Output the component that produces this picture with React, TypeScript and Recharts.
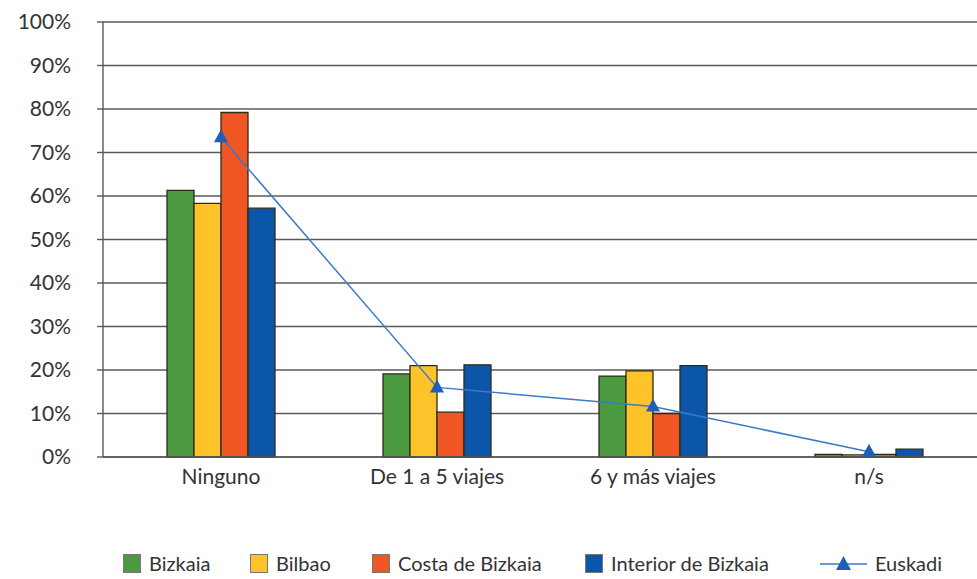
import { ComposedChart, Bar, Line, XAxis, YAxis, CartesianGrid, Legend } from "recharts";

const categories = ["Ninguno", "De 1 a 5 viajes", "6 y más viajes", "n/s"];
const bizkaia = [61.3, 19.1, 18.6, 0.6];
const bilbao = [58.3, 21.0, 19.8, 0.5];
const costa = [79.2, 10.3, 10.0, 0.6];
const interior = [57.2, 21.2, 21.0, 1.8];
const euskadi = [73.5, 16.0, 11.6, 1.2];
const yTicks = [0, 10, 20, 30, 40, 50, 60, 70, 80, 90, 100];

const series = [
  { key: "bizkaia", name: "Bizkaia", color: "#4b9a3f" },
  { key: "bilbao", name: "Bilbao", color: "#fdc32b" },
  { key: "costa", name: "Costa de Bizkaia", color: "#f05524" },
  { key: "interior", name: "Interior de Bizkaia", color: "#0c56a9" },
];

const data = categories.map((name, i) => ({
  name,
  bizkaia: bizkaia[i],
  bilbao: bilbao[i],
  costa: costa[i],
  interior: interior[i],
  euskadi: euskadi[i],
}));

const FONT = "Lato, 'Open Sans', sans-serif";
const TEXT = "#333";
const GRID = "#5a5a5a";
const LINE_BLUE = "#3d79c9";
const MARK_BLUE = "#1f5fb8";

const Triangle = (props: any) => {
  const { cx, cy } = props;
  if (cx == null || cy == null) return null;
  const s = 7;
  return <path d={`M${cx},${cy - s - 1} L${cx + s},${cy + s - 2} L${cx - s},${cy + s - 2} Z`} fill={MARK_BLUE} />;
};

// legend item x positions (left edge of symbol)
const legendX = [123, 250, 372, 585, 820];

const LegendContent = () => {
  const items = [...series.map((s) => ({ name: s.name, color: s.color, line: false })), { name: "Euskadi", color: MARK_BLUE, line: true }];
  return (
    <div style={{ position: "relative", height: 40, fontFamily: FONT, fontSize: 20, color: TEXT }}>
      {items.map((it, i) => (
        <div key={it.name} style={{ position: "absolute", left: legendX[i], top: 12, display: "flex", alignItems: "center" }}>
          {it.line ? (
            <svg width={47} height={20} style={{ marginRight: 8 }}>
              <line x1={0} y1={11} x2={47} y2={11} stroke={LINE_BLUE} strokeWidth={1.5} />
              <path d="M23.5,3 L31,17 L16,17 Z" fill={MARK_BLUE} />
            </svg>
          ) : (
            <div style={{ width: 18, height: 19, background: it.color, border: "1px solid #777", marginRight: 8, boxSizing: "border-box" }} />
          )}
          <span>{it.name}</span>
        </div>
      ))}
    </div>
  );
};

export default function App() {
  return (
    <div style={{ position: "absolute", left: 0, top: 0, background: "#fff" }}>
      <ComposedChart
        width={977}
        height={579}
        data={data}
        margin={{ top: 22, right: 0, left: 0, bottom: 0 }}
        barCategoryGap="25%"
        barGap={0}
      >
        <CartesianGrid vertical={false} stroke={GRID} strokeWidth={1.4} />
        <XAxis
          dataKey="name"
          padding={{ left: 10, right: 0 }}
          axisLine={{ stroke: GRID, strokeWidth: 1.4 }}
          tickLine={false}
          tick={{ fontSize: 21, fill: TEXT, fontFamily: FONT }}
          tickMargin={6}
          height={82}
        />
        <YAxis
          domain={[0, 100]}
          ticks={yTicks}
          interval={0}
          width={103}
          tickFormatter={(v: number) => `${v}%`}
          axisLine={{ stroke: GRID, strokeWidth: 1.4 }}
          tickLine={{ stroke: GRID, strokeWidth: 1.4 }}
          tickSize={6}
          tickMargin={26}
          tick={{ fontSize: 21, fill: TEXT, fontFamily: FONT }}
        />
        {series.map((s) => (
          <Bar key={s.key} dataKey={s.key} name={s.name} fill={s.color} stroke="#2e2a18" strokeWidth={1.3} isAnimationActive={false} />
        ))}
        <Line
          dataKey="euskadi"
          name="Euskadi"
          type="linear"
          stroke={LINE_BLUE}
          strokeWidth={1.5}
          dot={<Triangle />}
          activeDot={false}
          isAnimationActive={false}
        />
        <Legend verticalAlign="bottom" height={40} content={<LegendContent />} />
      </ComposedChart>
    </div>
  );
}
